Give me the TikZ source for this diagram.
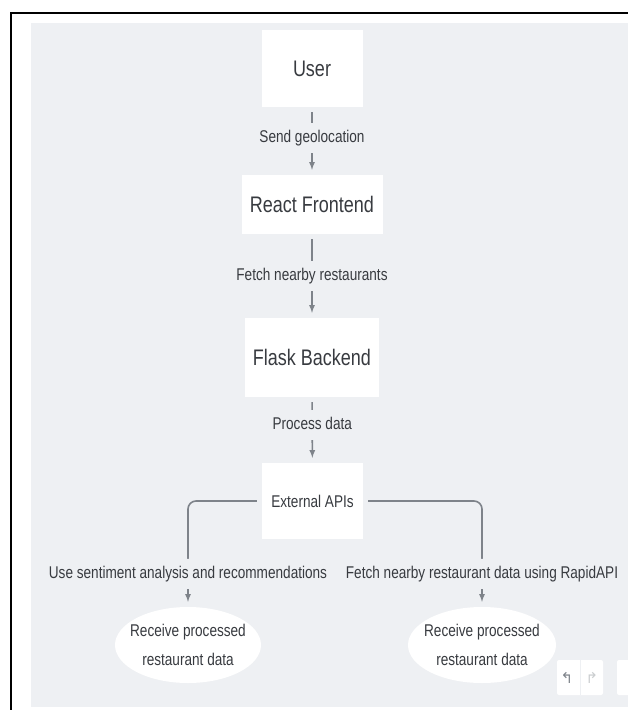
\documentclass[tikz,border=0pt]{standalone}
\usepackage{fontspec}
\newfontfamily\diafont[FakeStretch=0.8]{Liberation Sans}
\newfontfamily\iconfont{DejaVu Sans}
\usepackage{tikz}
\usetikzlibrary{arrows.meta, shapes.geometric}
\tikzset{>=latex}
\usepackage{xcolor}
\definecolor{canvas}{HTML}{EEF0F3}
\definecolor{ink}{HTML}{383B40}
\definecolor{wiregrey}{HTML}{7E838A}
\tikzstyle{box}=[fill=white, text=ink, inner sep=0, font=\diafont\fontsize{22.5}{26}\selectfont]
\tikzstyle{oval}=[ellipse, fill=white, text=ink, inner xsep=-14pt, inner ysep=-9pt, align=center, font=\diafont\fontsize{17}{29}\selectfont]
\tikzstyle{edgetext}=[fill=canvas, text=ink, inner xsep=2pt, inner ysep=7pt, text height=12.5pt, text depth=3.5pt, font=\diafont\fontsize{17}{20}\selectfont]
\tikzstyle{flow}=[->, color=wiregrey, line width=1.6pt, shorten <=5pt, shorten >=5pt]

\begin{document}
\begin{tikzpicture}[x=1pt, y=-1pt]
		\useasboundingbox (0,0) rectangle (628,710);
		\clip (0,0) rectangle (628,710);
		\draw[line width=2pt] (11,720) -- (11,13) -- (640,13);
		\fill[canvas] (31,23) rectangle (628,707);
		
		\node[box, minimum width=101, minimum height=77] (user) at (312,68.5) {User};
		\node[box, minimum width=141, minimum height=59] (react) at (312,204.5) {React Frontend};
		\node[box, minimum width=134, minimum height=79] (flask) at (312,357.5) {Flask Backend};
		\node[box, minimum width=101, minimum height=76, font=\diafont\fontsize{17}{20}\selectfont] (ext) at (312.5,501) {External APIs};
		\node[oval, minimum width=146, minimum height=76] (leftres) at (188,645) {Receive processed\\restaurant data};
		\node[oval, minimum width=148, minimum height=76] (rightres) at (482,645) {Receive processed\\restaurant data};
		
		\path[flow] (user) edge node[edgetext, pos=0.45] {Send geolocation} (react);
		\path[flow] (react) edge node[edgetext] {Fetch nearby restaurants} (flask);
		\path[flow] (flask) edge node[edgetext, pos=0.42] {Process data} (ext);
		\draw[flow, rounded corners=8pt] (ext.west) -| node[edgetext, pos=0.844] {Use sentiment analysis and recommendations} (leftres.north);
		\draw[flow, rounded corners=8pt] (ext.east) -| node[edgetext, pos=0.844] {Fetch nearby restaurant data using RapidAPI} (rightres.north);
		
		% undo / redo buttons in the corner
		\node[fill=white, rounded corners=2pt, minimum width=46, minimum height=35] (history) at (580,677.5) {};
		\node[text=wiregrey, font=\iconfont\fontsize{15}{15}\selectfont] (undo) at (567,677.5) {↰};
		\node[text=wiregrey!40, font=\iconfont\fontsize{15}{15}\selectfont] (redo) at (592,677.5) {↱};
		\draw[canvas, line width=0.6pt] (history.north) -- (history.south);
		\node[fill=white, rounded corners=2pt, minimum width=20, minimum height=35] (zoombar) at (627,677.5) {};
	\end{tikzpicture}
\end{document}
